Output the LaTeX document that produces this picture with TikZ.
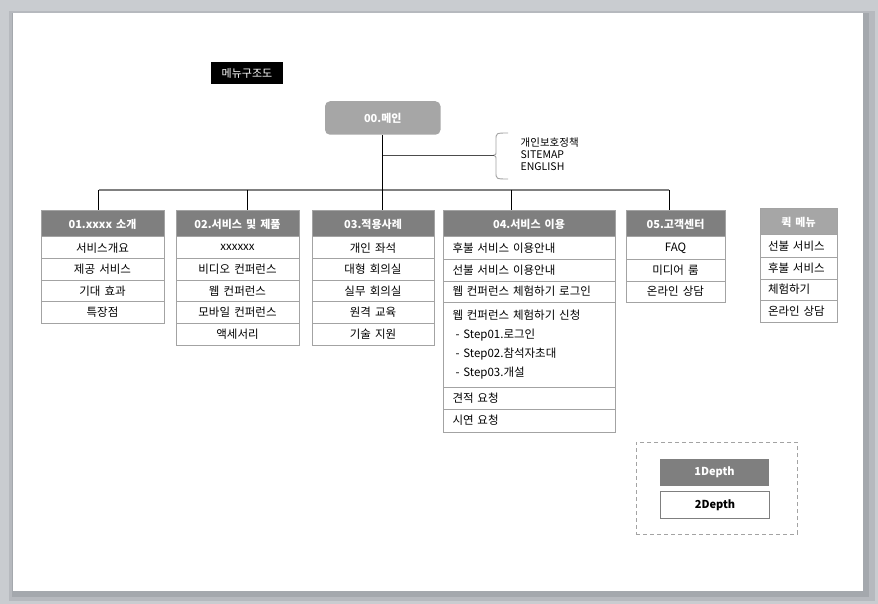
\documentclass[tikz,border=0pt]{standalone}
\usepackage{fontspec}
\setmainfont{Noto Sans CJK KR}[WordSpace=1.6]
\definecolor{hdgray}{HTML}{7F7F7F}
\definecolor{mngray}{HTML}{A6A6A6}
\definecolor{lngray}{HTML}{A3A3A3}
\definecolor{bggray}{HTML}{C9CCD0}
\definecolor{shgray}{HTML}{A4A8AD}

\begin{document}
\begin{tikzpicture}[x=1pt,y=-1pt,
hdr/.style={rectangle,draw=lngray,line width=1pt,fill=hdgray,text=white,font=\fontsize{11}{13}\selectfont\bfseries,minimum height=26pt,inner sep=0pt},
cell/.style={rectangle,draw=lngray,line width=1pt,fill=white,font=\fontsize{11.5}{13}\selectfont,minimum height=21.6pt,inner sep=0pt},
lcell/.style={cell,align=left,inner xsep=9.5pt}]
\useasboundingbox (0,0) rectangle (878,604);
\fill[bggray] (0,0) rectangle (878,604);
\fill[shgray,opacity=0.5] (9,11) rectangle (875,601);
\fill[shgray] (12,13) rectangle (869,597);
\fill[white] (13,13) rectangle (863,591);

\node[fill=black,text=white,minimum width=72pt,minimum height=22pt,inner sep=0pt,font=\fontsize{11}{13}\selectfont] at (247,73) (title) {메뉴구조도};
\node[fill=mngray,rounded corners=5pt,text=white,minimum width=115.5pt,minimum height=33.5pt,inner sep=0pt,font=\fontsize{11}{13}\selectfont\bfseries] at (382.75,118) (main) {00.메인};

% 01
\node[hdr,minimum width=123pt] at (102.5,224) (h1) {01.xxxx 소개};
\node[cell,minimum width=123pt] at (102.5,247.8) (c11) {서비스개요};
\node[cell,minimum width=123pt] at (102.5,269.4) (c12) {제공 서비스};
\node[cell,minimum width=123pt] at (102.5,291) (c13) {기대 효과};
\node[cell,minimum width=123pt] at (102.5,312.6) (c14) {특장점};

% 02
\node[hdr,minimum width=123pt] at (237.5,224) (h2) {02.서비스 및 제품};
\node[cell,minimum width=123pt] at (237.5,247.8) (c21) {xxxxxx};
\node[cell,minimum width=123pt] at (237.5,269.4) (c22) {비디오 컨퍼런스};
\node[cell,minimum width=123pt] at (237.5,291) (c23) {웹 컨퍼런스};
\node[cell,minimum width=123pt] at (237.5,312.6) (c24) {모바일 컨퍼런스};
\node[cell,minimum width=123pt] at (237.5,334.2) (c25) {액세서리};

% 03
\node[hdr,minimum width=122pt] at (373,224) (h3) {03.적용사례};
\node[cell,minimum width=122pt] at (373,247.8) (c31) {개인 좌석};
\node[cell,minimum width=122pt] at (373,269.4) (c32) {대형 회의실};
\node[cell,minimum width=122pt] at (373,291) (c33) {실무 회의실};
\node[cell,minimum width=122pt] at (373,312.6) (c34) {원격 교육};
\node[cell,minimum width=122pt] at (373,334.2) (c35) {기술 지원};

% 04
\node[hdr,minimum width=172pt] at (529,224) (h4) {04.서비스 이용};
\node[lcell,text width=153pt,minimum height=22pt] at (529,248) (c41) {후불 서비스 이용안내};
\node[lcell,text width=153pt,minimum height=22pt] at (529,270) (c42) {선불 서비스 이용안내};
\node[lcell,text width=153pt,minimum height=21pt] at (529,291.5) (c43) {웹 컨퍼런스 체험하기 로그인};
\node[lcell,text width=153pt,minimum height=85pt,font=\fontsize{11.5}{19.2}\selectfont] at (529,344.5) (c44) {웹 컨퍼런스 체험하기 신청\\\hspace*{3pt}- Step01.로그인\\\hspace*{3pt}- Step02.참석자초대\\\hspace*{3pt}- Step03.개설};
\node[lcell,text width=153pt,minimum height=22pt] at (529,398) (c45) {견적 요청};
\node[lcell,text width=153pt,minimum height=23pt] at (529,420.5) (c46) {시연 요청};

% 05
\node[hdr,minimum width=99pt] at (675.5,224) (h5) {05.고객센터};
\node[cell,minimum width=99pt,minimum height=22pt] at (675.5,248) (c51) {FAQ};
\node[cell,minimum width=99pt,minimum height=22pt] at (675.5,270) (c52) {미디어 룸};
\node[cell,minimum width=99pt,minimum height=21pt] at (675.5,291.5) (c53) {온라인 상담};

% quick menu
\node[hdr,fill=mngray,minimum width=77pt] at (798.5,222) (q0) {퀵 메뉴};
\node[lcell,inner xsep=8pt,text width=61pt,minimum height=22pt] at (798.5,246) (q1) {선불 서비스};
\node[lcell,inner xsep=8pt,text width=61pt,minimum height=22pt] at (798.5,268) (q2) {후불 서비스};
\node[lcell,inner xsep=8pt,text width=61pt,minimum height=21pt] at (798.5,289.5) (q3) {체험하기};
\node[lcell,inner xsep=8pt,text width=61pt,minimum height=22pt] at (798.5,311) (q4) {온라인 상담};

% links
\coordinate (tip) at (493.5,155.3);
\node[anchor=west,align=left,inner sep=0pt,font=\fontsize{10.5}{12.4}\selectfont] at (520.5,154.3) (links) {개인보호정책\\SITEMAP\\ENGLISH};
\draw[lngray,line width=0.9pt] (508,133) .. controls (496,133) .. (496,140) -- (496,150) .. controls (496,155) .. (tip) .. controls (496,156) .. (496,161) -- (496,172) .. controls (496,179) .. (508,179);
\draw[black!70,line width=0.9pt] (main.south |- tip) -- (tip);

% bus
\coordinate (b1) at (98.7,190);
\coordinate (b2) at (247.2,190);
\coordinate (b4) at (511.5,190);
\coordinate (b5) at (669,190);
\draw[gray,line width=1.2pt] (b1) -- (b5);
\draw[line width=0.8pt] (main.south) -- (main.south |- h3.north);
\draw[line width=0.8pt] (b1) -- (b1 |- h1.north);
\draw[line width=0.8pt] (b2) -- (b2 |- h2.north);
\draw[line width=0.8pt] (b4) -- (b4 |- h4.north);
\draw[line width=0.8pt] (b5) -- (b5 |- h5.north);

% legend
\node[draw=lngray,dashed,dash pattern=on 4pt off 3pt,line width=0.9pt,minimum width=161pt,minimum height=92pt,inner sep=0pt] at (716.5,488) (legend) {};
\node[hdr,draw=none,minimum width=109pt,minimum height=27pt] at (714.5,472) (d1) {1Depth};
\node[cell,draw=hdgray,minimum width=109pt,minimum height=27.5pt,font=\fontsize{11}{13}\selectfont\bfseries] at (715,505) (d2) {2Depth};
\end{tikzpicture}
\end{document}
